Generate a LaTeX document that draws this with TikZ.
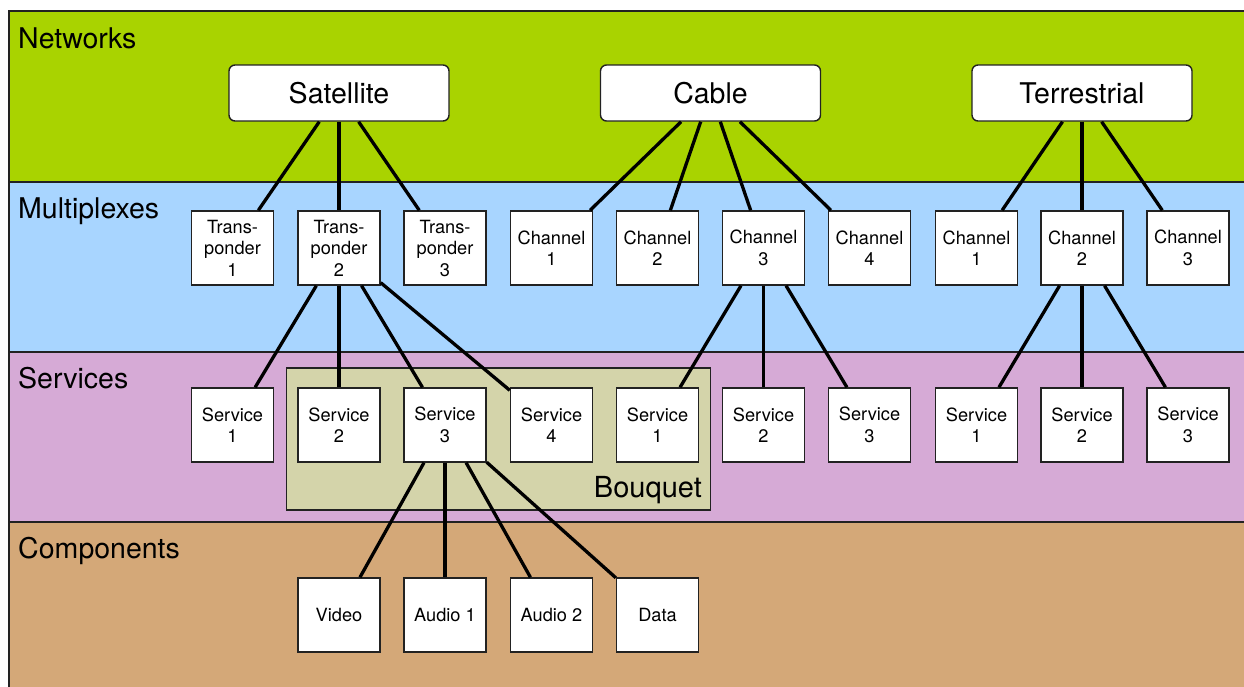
\documentclass[tikz,border=0pt]{standalone}
\usepackage{fontspec}
\setmainfont{TeX Gyre Heros}
\definecolor{netc}{HTML}{A9D300}
\definecolor{muxc}{HTML}{A8D5FF}
\definecolor{srvc}{HTML}{D6AAD6}
\definecolor{cmpc}{HTML}{D4A878}
\definecolor{bqc}{HTML}{D4D4AA}
\definecolor{edgec}{HTML}{222222}
\begin{document}
\begin{tikzpicture}[x=1pt,y=-1pt,
  band/.style={draw=edgec,line width=1.5pt},
  bandlabel/.style={anchor=base west,inner sep=0,font=\fontsize{28.5}{33}\selectfont},
  box/.style={draw=edgec,line width=1.4pt,fill=white,minimum width=82pt,minimum height=74pt,
    align=center,inner sep=0,font=\fontsize{18.2}{21.5}\selectfont},
  netbox/.style={draw=edgec,line width=1.4pt,fill=white,rounded corners=6pt,minimum width=220pt,
    minimum height=56pt,inner sep=0,font=\fontsize{28.5}{32}\selectfont},
  link/.style={line width=3.3pt,black}]
\useasboundingbox (0,0) rectangle (1244,686);
\clip (0,0) rectangle (1244,686);
% bands
\fill[netc] (9,11) rectangle (1260,182);
\fill[muxc] (9,182) rectangle (1260,352);
\fill[srvc] (9,352) rectangle (1260,522);
\fill[cmpc] (9,522) rectangle (1260,700);
\draw[band] (1260,11) -- (9,11) -- (9,700);
\draw[band] (9,182) -- (1260,182);
\draw[band] (9,352) -- (1260,352);
\draw[band] (9,522) -- (1260,522);
\node[bandlabel] (lnet) at (18,48) {Networks};
\node[bandlabel] (lmux) at (18,218) {Multiplexes};
\node[bandlabel] (lsrv) at (18,388) {Services};
\node[bandlabel] (lcmp) at (18,558) {Components};
% bouquet
\node[draw=edgec,line width=1.4pt,fill=bqc,minimum width=424pt,minimum height=142pt,inner sep=0] (bouquet) at (498.5,439) {};
\node[anchor=base east,inner sep=0,font=\fontsize{29}{33}\selectfont] (bqlabel) at (702,497) {Bouquet};
% networks
\node[netbox] (sat) at (339,93) {Satellite};
\node[netbox] (cab) at (710.5,93) {Cable};
\node[netbox] (ter) at (1082,93) {Terrestrial};
% multiplexes
\node[box] (t1) at (232.5,248) {Trans-\\ponder\\1};
\node[box] (t2) at (339,248) {Trans-\\ponder\\2};
\node[box] (t3) at (445,248) {Trans-\\ponder\\3};
\node[box] (c1) at (551.5,248) {Channel\\1};
\node[box] (c2) at (657.5,248) {Channel\\2};
\node[box] (c3) at (763.5,248) {Channel\\3};
\node[box] (c4) at (869.5,248) {Channel\\4};
\node[box] (tc1) at (976.5,248) {Channel\\1};
\node[box] (tc2) at (1082,248) {Channel\\2};
\node[box] (tc3) at (1188,248) {Channel\\3};
% services
\node[box] (s1) at (232.5,425) {Service\\1};
\node[box] (s2) at (339,425) {Service\\2};
\node[box] (s3) at (445,425) {Service\\3};
\node[box] (s4) at (551.5,425) {Service\\4};
\node[box] (cs1) at (657.5,425) {Service\\1};
\node[box] (cs2) at (763.5,425) {Service\\2};
\node[box] (cs3) at (869.5,425) {Service\\3};
\node[box] (ts1) at (976.5,425) {Service\\1};
\node[box] (ts2) at (1082,425) {Service\\2};
\node[box] (ts3) at (1188,425) {Service\\3};
% components
\node[box] (video) at (339,615) {Video};
\node[box] (aud1) at (445,615) {Audio 1};
\node[box] (aud2) at (551.5,615) {Audio 2};
\node[box] (data) at (657.5,615) {Data};
% links
\draw[link] (sat) -- (t1);
\draw[link] (sat) -- (t2);
\draw[link] (sat) -- (t3);
\draw[link] (cab) -- (c1);
\draw[link] (cab) -- (c2);
\draw[link] (cab) -- (c3);
\draw[link] (cab) -- (c4);
\draw[link] (ter) -- (tc1);
\draw[link] (ter) -- (tc2);
\draw[link] (ter) -- (tc3);
\draw[link] (t2) -- (s1);
\draw[link] (t2) -- (s2);
\draw[link] (t2) -- (s3);
\draw[link] (t2) -- (s4);
\draw[link] (c3) -- (cs1);
\draw[link] (c3) -- (cs2);
\draw[link] (c3) -- (cs3);
\draw[link] (tc2) -- (ts1);
\draw[link] (tc2) -- (ts2);
\draw[link] (tc2) -- (ts3);
\draw[link] (s3) -- (video);
\draw[link] (s3) -- (aud1);
\draw[link] (s3) -- (aud2);
\draw[link] (s3) -- (data);
\end{tikzpicture}
\end{document}
